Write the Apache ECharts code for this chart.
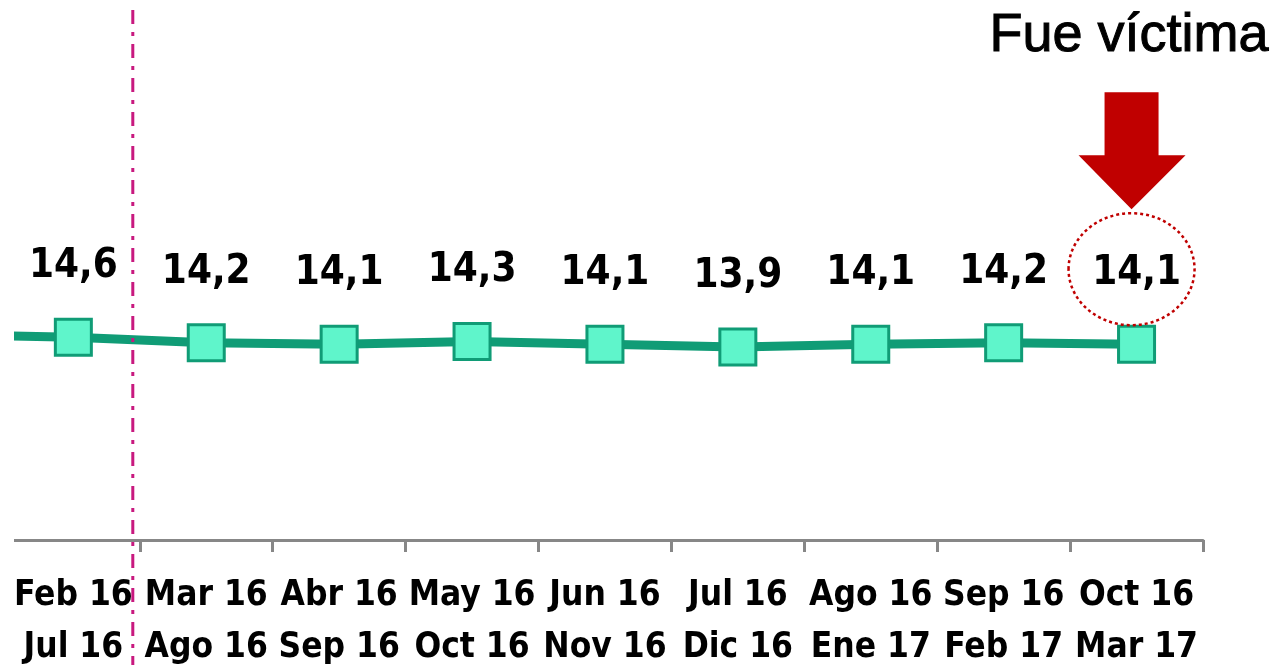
<!DOCTYPE html>
<html>
<head>
<meta charset="utf-8">
<script src="https://cdn.jsdelivr.net/npm/echarts@6/dist/echarts.min.js"></script>
<style>
  html, body { margin: 0; padding: 0; background: #fff; }
  #chart { width: 1274px; height: 665px; }
</style>
</head>
<body>
<div id="chart"></div>
<script>
// periodos moviles de 6 meses (el primero queda fuera del recorte)
const periodStart = ['Ene 16', 'Feb 16', 'Mar 16', 'Abr 16', 'May 16', 'Jun 16', 'Jul 16', 'Ago 16', 'Sep 16', 'Oct 16']
const periodEnd = ['Jun 16', 'Jul 16', 'Ago 16', 'Sep 16', 'Oct 16', 'Nov 16', 'Dic 16', 'Ene 17', 'Feb 17', 'Mar 17']
const victimRate = [14.8, 14.6, 14.2, 14.1, 14.3, 14.1, 13.9, 14.1, 14.2, 14.1]
const noteText = 'Fue víctima'

const categories = periodStart.map((s, i) => s + '\n' + periodEnd[i])

const chart = echarts.init(document.getElementById('chart'))

const labelFont = '"DejaVu Sans Condensed", "DejaVu Sans", sans-serif'

chart.setOption({
  backgroundColor: '#ffffff',
  animation: false,
  grid: {
    left: -126,
    right: 71,
    top: 54,
    bottom: 125,
    containLabel: false,
    outerBoundsMode: 'none'
  },
  xAxis: {
    type: 'category',
    data: categories,
    axisLine: {
      lineStyle: { color: '#878787', width: 3 }
    },
    axisTick: {
      show: true,
      length: 12,
      lineStyle: { color: '#878787', width: 3 }
    },
    axisLabel: {
      color: '#000',
      fontFamily: labelFont,
      fontWeight: 'bold',
      fontSize: 35,
      lineHeight: 52,
      margin: 30,
      interval: 0
    }
  },
  yAxis: {
    type: 'value',
    min: 0,
    max: 35,
    show: false
  },
  series: [
    {
      type: 'line',
      data: victimRate,
      symbol: 'rect',
      symbolSize: 36,
      lineStyle: { color: '#109c76', width: 9 },
      itemStyle: { color: '#5ff5cb', borderColor: '#109c76', borderWidth: 3 },
      label: {
        show: true,
        position: 'top',
        distance: 31,
        color: '#000',
        fontFamily: labelFont,
        fontWeight: 'bold',
        fontSize: 40,
        formatter: p => String(p.value).replace('.', ',')
      }
    }
  ]
})

// anotaciones: separador, flecha y circulo sobre el ultimo valor
const last = victimRate.length - 1
const pLast = chart.convertToPixel({ seriesIndex: 0 }, [last, victimRate[last]])
const xFeb = chart.convertToPixel({ xAxisIndex: 0 }, categories[1])
const xMar = chart.convertToPixel({ xAxisIndex: 0 }, categories[2])
const sepX = (xFeb + xMar) / 2 - 7
const cx = pLast[0] - 5
const cy = pLast[1] - 75

chart.setOption({
  graphic: [
    {
      type: 'rect',
      shape: { x: 0, y: 0, width: 14, height: 665 },
      style: { fill: '#fff' },
      z: 50
    },
    {
      type: 'line',
      shape: { x1: sepX, y1: 10, x2: sepX, y2: 665 },
      style: { stroke: '#c8197f', lineWidth: 3, lineDash: [14, 8, 4, 8] },
      z: 60
    },
    {
      type: 'ellipse',
      shape: { cx: cx, cy: cy, rx: 63, ry: 56 },
      style: { fill: 'none', stroke: '#c00000', lineWidth: 2.5, lineDash: [3, 3] },
      z: 60
    },
    {
      type: 'polygon',
      shape: {
        points: [
          [cx - 27, cy - 177], [cx + 27, cy - 177], [cx + 27, cy - 114],
          [cx + 54, cy - 114], [cx, cy - 60], [cx - 53, cy - 114],
          [cx - 27, cy - 114]
        ]
      },
      style: { fill: '#c00000' },
      z: 60
    },
    {
      type: 'text',
      left: 989,
      top: 9,
      style: {
        text: noteText,
        fill: '#000',
        stroke: '#000',
        lineWidth: 1,
        font: '54px "Liberation Sans", Arial, sans-serif'
      },
      z: 60
    }
  ]
})
</script>
</body>
</html>
